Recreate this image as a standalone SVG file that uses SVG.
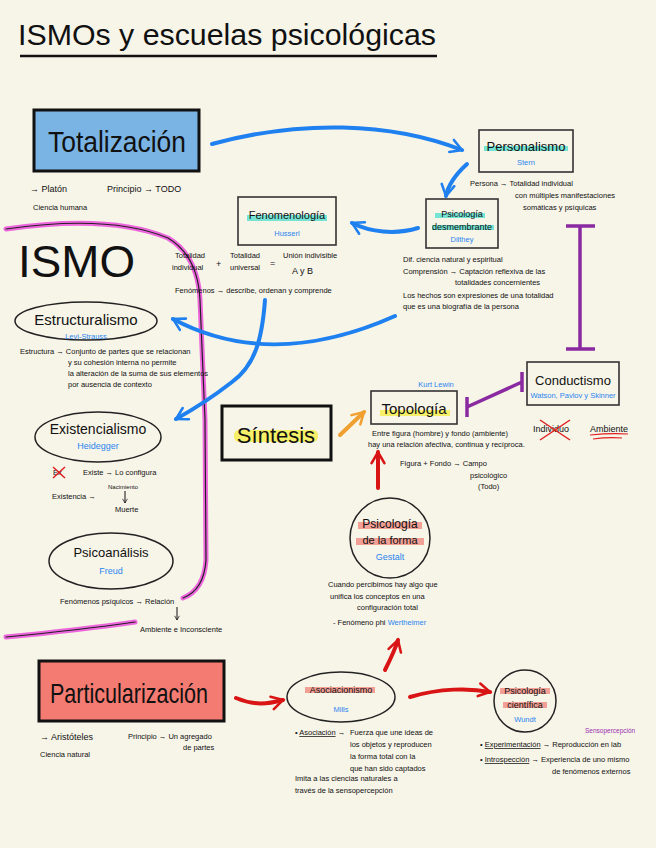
<svg xmlns="http://www.w3.org/2000/svg" width="656" height="848" viewBox="0 0 656 848">
<style>
text{font-family:"Liberation Sans","DejaVu Sans",sans-serif;fill:#111}
.s{font-size:7.5px}
.m{font-size:9px}
.blue{fill:#2a86f0}
.box{fill:none;stroke:#333;stroke-width:1.6}
.ell{fill:none;stroke:#222;stroke-width:1.5}
.ba{fill:none;stroke:#1f80f0;stroke-width:4;stroke-linecap:round}
.ra{fill:none;stroke:#d81414;stroke-width:4;stroke-linecap:round}
.pu{fill:none;stroke:#8a2aa0;stroke-width:3.5}
.pk{fill:none;stroke:#ee66dd;stroke-width:5;stroke-linecap:round}
.pkc{fill:none;stroke:#222;stroke-width:1.2;stroke-linecap:round}
.teal{fill:#55e0d0;opacity:.8}
.rose{fill:#f08a80;opacity:.8}
.yel{fill:#f5ef50;opacity:.85}
.c{text-anchor:middle}
</style>
<defs>
<marker id="bh" viewBox="0 0 10 10" refX="8" refY="5" markerWidth="4" markerHeight="4" orient="auto" markerUnits="strokeWidth">
<path d="M1,1 L8,5 L1,9" fill="none" stroke="#1f80f0" stroke-width="1.6" stroke-linecap="round"/>
</marker>
<marker id="rh" viewBox="0 0 10 10" refX="8" refY="5" markerWidth="4" markerHeight="4" orient="auto" markerUnits="strokeWidth">
<path d="M1,1 L8,5 L1,9" fill="none" stroke="#d81414" stroke-width="1.6" stroke-linecap="round"/>
</marker>
<marker id="oh" viewBox="0 0 10 10" refX="8" refY="5" markerWidth="4" markerHeight="4" orient="auto" markerUnits="strokeWidth">
<path d="M1,1 L8,5 L1,9" fill="none" stroke="#f0a030" stroke-width="1.6" stroke-linecap="round"/>
</marker>
<marker id="kh" viewBox="0 0 10 10" refX="8" refY="5" markerWidth="6" markerHeight="6" orient="auto" markerUnits="strokeWidth">
<path d="M1,1 L8,5 L1,9" fill="none" stroke="#111" stroke-width="1.2"/>
</marker>
</defs>
<rect width="656" height="848" fill="#f7f4e8"/>

<g id="title">
<text x="18" y="45" style="font-size:29px" textLength="418" lengthAdjust="spacingAndGlyphs">ISMOs y escuelas psicológicas</text>
<line x1="20" y1="56" x2="437" y2="56" stroke="#111" stroke-width="2.5"/>
</g>

<g id="bracket">
<path class="pk" d="M6,229 Q110,214 168,238 Q198,256 200,300 L205,420 L206,560 Q204,590 183,598"/>
<path class="pkc" d="M6,229 Q110,214 168,238 Q198,256 200,300 L205,420 L206,560 Q204,590 183,598"/>
<path class="pk" d="M6,637 Q80,630 135,622"/>
<path class="pkc" d="M6,637 Q80,630 135,622"/>
</g>

<g id="connectors">
<path class="ba" d="M212,144 C300,120 390,122 462,150" marker-end="url(#bh)"/>
<path class="ba" d="M467,164 C455,175 448,185 446,196" marker-end="url(#bh)"/>
<path class="ba" d="M418,228 C395,235 370,232 352,223" marker-end="url(#bh)"/>
<path class="ba" d="M395,316 C330,345 250,360 173,319" marker-end="url(#bh)"/>
<path class="ba" d="M265,300 C262,340 255,365 232,382 Q205,403 176,419" marker-end="url(#bh)"/>
<path d="M340,435 L364,412" fill="none" stroke="#f0a030" stroke-width="4" stroke-linecap="round" marker-end="url(#oh)"/>
<path class="ra" d="M378,488 L378,452" marker-end="url(#rh)"/>
<path class="ra" d="M385,670 C390,660 395,650 398,640" marker-end="url(#rh)"/>
<path class="ra" d="M236,698 C255,706 268,704 283,700" marker-end="url(#rh)"/>
<path class="ra" d="M410,697 C440,688 470,688 490,692" marker-end="url(#rh)"/>
<path class="pu" d="M580,226 L580,349 M566,226 L595,226 M566,349 L595,349"/>
<path class="pu" d="M522,382 L467,407 M522,372 L522,392 M467,397 L467,417"/>
</g>

<g id="totalizacion">
<rect x="34" y="110" width="165" height="61" fill="#7ab4e4" stroke="#111" stroke-width="3"/>
<text x="48" y="152" style="font-size:30px" textLength="138" lengthAdjust="spacingAndGlyphs">Totalización</text>
<text x="30" y="192" class="m">→ Platón</text>
<text x="107" y="192" class="m">Principio → TODO</text>
<text x="33" y="210" class="s">Ciencia humana</text>
</g>

<g id="ismo">
<text x="18" y="277" style="font-size:44px" textLength="117" lengthAdjust="spacingAndGlyphs">ISMO</text>
</g>

<g id="personalismo">
<rect x="479" y="130" width="94" height="42" class="box"/>
<rect x="484" y="146" width="84" height="5" class="teal"/>
<text x="526" y="151" class="c" style="font-size:13px">Personalismo</text>
<text x="526" y="165" class="c s blue">Stern</text>
<text x="470" y="186" class="s">Persona → Totalidad individual</text>
<text x="515" y="198" class="s">con múltiples manifestaciones</text>
<text x="523" y="210" class="s">somáticas y psíquicas</text>
</g>

<g id="desmembrante">
<rect x="426" y="199" width="72" height="49" class="box"/>
<rect x="435" y="213" width="50" height="5" class="teal"/>
<rect x="432" y="225" width="62" height="5" class="teal"/>
<text x="462" y="217" class="c m">Psicología</text>
<text x="462" y="230" class="c m">desmembrante</text>
<text x="462" y="242" class="c s blue">Dilthey</text>
<text x="403" y="262" class="s">Dif. ciencia natural y espiritual</text>
<text x="403" y="274" class="s">Comprensión → Captación reflexiva de las</text>
<text x="455" y="285" class="s">totalidades concernientes</text>
<text x="403" y="298" class="s">Los hechos son expresiones de una totalidad</text>
<text x="403" y="309" class="s">que es una biografía de la persona</text>
</g>

<g id="fenomenologia">
<rect x="238" y="197" width="98" height="48" class="box"/>
<rect x="247" y="215" width="80" height="6" class="teal"/>
<text x="287" y="219" class="c" style="font-size:11px">Fenomenología</text>
<text x="287" y="236" class="c s blue">Husserl</text>
<text x="175" y="258" class="s">Totalidad</text>
<text x="172" y="270" class="s">individual</text>
<text x="216" y="267" class="m">+</text>
<text x="230" y="258" class="s">Totalidad</text>
<text x="230" y="270" class="s">universal</text>
<text x="270" y="266" class="m">=</text>
<text x="283" y="258" class="s">Unión indivisible</text>
<text x="292" y="274" class="m">A y B</text>
<text x="175" y="293" class="s">Fenómenos → describe, ordenan y comprende</text>
</g>

<g id="estructuralismo">
<ellipse cx="86" cy="321" rx="71" ry="19" class="ell"/>
<text x="86" y="325" class="c" style="font-size:15px">Estructuralismo</text>
<text x="86" y="339" class="c s blue">Levi-Strauss</text>
<text x="20" y="354" class="s">Estructura → Conjunto de partes que se relacionan</text>
<text x="68" y="365" class="s">y su cohesión interna no permite</text>
<text x="68" y="376" class="s">la alteración de la suma de sus elementos</text>
<text x="68" y="387" class="s">por ausencia de contexto</text>
</g>

<g id="existencialismo">
<ellipse cx="98" cy="437" rx="63" ry="25" class="ell"/>
<text x="98" y="434" class="c" style="font-size:14px">Existencialismo</text>
<text x="98" y="449" class="c m blue">Heidegger</text>
<text x="53" y="475" class="s">Ex</text>
<path d="M53,467 L65,478 M65,467 L53,478" stroke="#e02020" stroke-width="1.5"/>
<text x="83" y="475" class="s">Existe → Lo configura</text>
<text x="108" y="489" class="s" style="font-size:6px">Nacimiento</text>
<text x="52" y="499" class="s">Existencia →</text>
<line x1="125" y1="491" x2="125" y2="503" stroke="#111" stroke-width="1" marker-end="url(#kh)"/>
<text x="115" y="512" class="s">Muerte</text>
</g>

<g id="psicoanalisis">
<ellipse cx="111" cy="561" rx="62" ry="28" class="ell"/>
<text x="111" y="557" class="c" style="font-size:13px">Psicoanálisis</text>
<text x="111" y="574" class="c m blue">Freud</text>
<text x="60" y="604" class="s">Fenómenos psíquicos → Relación</text>
<line x1="177" y1="607" x2="177" y2="620" stroke="#111" stroke-width="1" marker-end="url(#kh)"/>
<text x="140" y="632" class="s">Ambiente e Inconsciente</text>
</g>

<g id="sintesis">
<rect x="222" y="406" width="109" height="54" fill="none" stroke="#111" stroke-width="3"/>
<rect x="234" y="430" width="84" height="12" class="yel" rx="5"/>
<text x="276" y="443" class="c" style="font-size:22px">Síntesis</text>
</g>

<g id="topologia">
<text x="436" y="387" class="c s blue">Kurt Lewin</text>
<rect x="371" y="391" width="86" height="33" class="box"/>
<rect x="380" y="410" width="70" height="6" class="yel"/>
<text x="414" y="414" class="c" style="font-size:15px">Topología</text>
<text x="372" y="436" class="s">Entre figura (hombre) y fondo (ambiente)</text>
<text x="368" y="447" class="s">hay una relación afectiva, continua y recíproca.</text>
<text x="400" y="466" class="s">Figura + Fondo → Campo</text>
<text x="470" y="478" class="s">psicológico</text>
<text x="478" y="489" class="s">(Todo)</text>
</g>

<g id="conductismo">
<rect x="527" y="362" width="92" height="43" class="box"/>
<text x="573" y="385" class="c" style="font-size:13px">Conductismo</text>
<text x="573" y="398" class="c s blue">Watson, Pavlov y Skinner</text>
<text x="533" y="432" class="m">Individuo</text>
<path d="M540,420 L570,440 M570,420 L540,440" stroke="#e02020" stroke-width="1.5"/>
<text x="590" y="432" class="m">Ambiente</text>
<path d="M590,435 Q610,433 628,434 M593,439 Q608,437 622,438" stroke="#e02020" stroke-width="1.2" fill="none"/>
</g>

<g id="forma">
<circle cx="390" cy="538" r="40" class="ell"/>
<rect x="358" y="522" width="64" height="7" class="rose"/>
<rect x="356" y="538" width="68" height="7" class="rose"/>
<text x="390" y="528" class="c" style="font-size:12px">Psicología</text>
<text x="390" y="544" class="c" style="font-size:11px">de la forma</text>
<text x="390" y="560" class="c m blue">Gestalt</text>
<text x="328" y="587" class="s">Cuando percibimos hay algo que</text>
<text x="330" y="599" class="s">unifica los conceptos en una</text>
<text x="357" y="610" class="s">configuración total</text>
<text x="333" y="625" class="s">- Fenómeno phi <tspan class="blue">Wertheimer</tspan></text>
</g>

<g id="particularizacion">
<rect x="39" y="661" width="185" height="60" fill="#f47b72" stroke="#111" stroke-width="3"/>
<text x="50" y="703" style="font-size:28px" textLength="158" lengthAdjust="spacingAndGlyphs">Particularización</text>
<text x="40" y="740" class="m">→ Aristóteles</text>
<text x="128" y="739" class="s">Principio → Un agregado</text>
<text x="183" y="750" class="s">de partes</text>
<text x="40" y="757" class="s">Ciencia natural</text>
</g>

<g id="asociacionismo">
<ellipse cx="341" cy="697" rx="54" ry="25" class="ell"/>
<rect x="305" y="687" width="70" height="6" class="rose"/>
<text x="341" y="693" class="c m">Asociacionismo</text>
<text x="341" y="712" class="c s blue">Mills</text>
<text x="295" y="735" class="s">• <tspan text-decoration="underline">Asociación</tspan> →</text>
<text x="350" y="735" class="s">Fuerza que une ideas de</text>
<text x="350" y="747" class="s">los objetos y reproducen</text>
<text x="350" y="759" class="s">la forma total con la</text>
<text x="350" y="771" class="s">que han sido captados</text>
<text x="295" y="781" class="s">Imita a las ciencias naturales a</text>
<text x="295" y="793" class="s">través de la sensopercepción</text>
</g>

<g id="cientifica">
<circle cx="525" cy="701" r="31" class="ell"/>
<rect x="500" y="688" width="50" height="6" class="rose"/>
<rect x="503" y="702" width="44" height="6" class="rose"/>
<text x="525" y="694" class="c m">Psicología</text>
<text x="525" y="708" class="c m">científica</text>
<text x="525" y="722" class="c s blue">Wundt</text>
<text x="585" y="733" class="s" style="fill:#9a30b0;font-size:6.5px">Sensopercepción</text>
<text x="480" y="747" class="s">• <tspan text-decoration="underline">Experimentación</tspan> → Reproducción en lab</text>
<text x="480" y="762" class="s">• <tspan text-decoration="underline">Introspección</tspan> → Experiencia de uno mismo</text>
<text x="552" y="774" class="s">de fenómenos externos</text>
</g>
</svg>
